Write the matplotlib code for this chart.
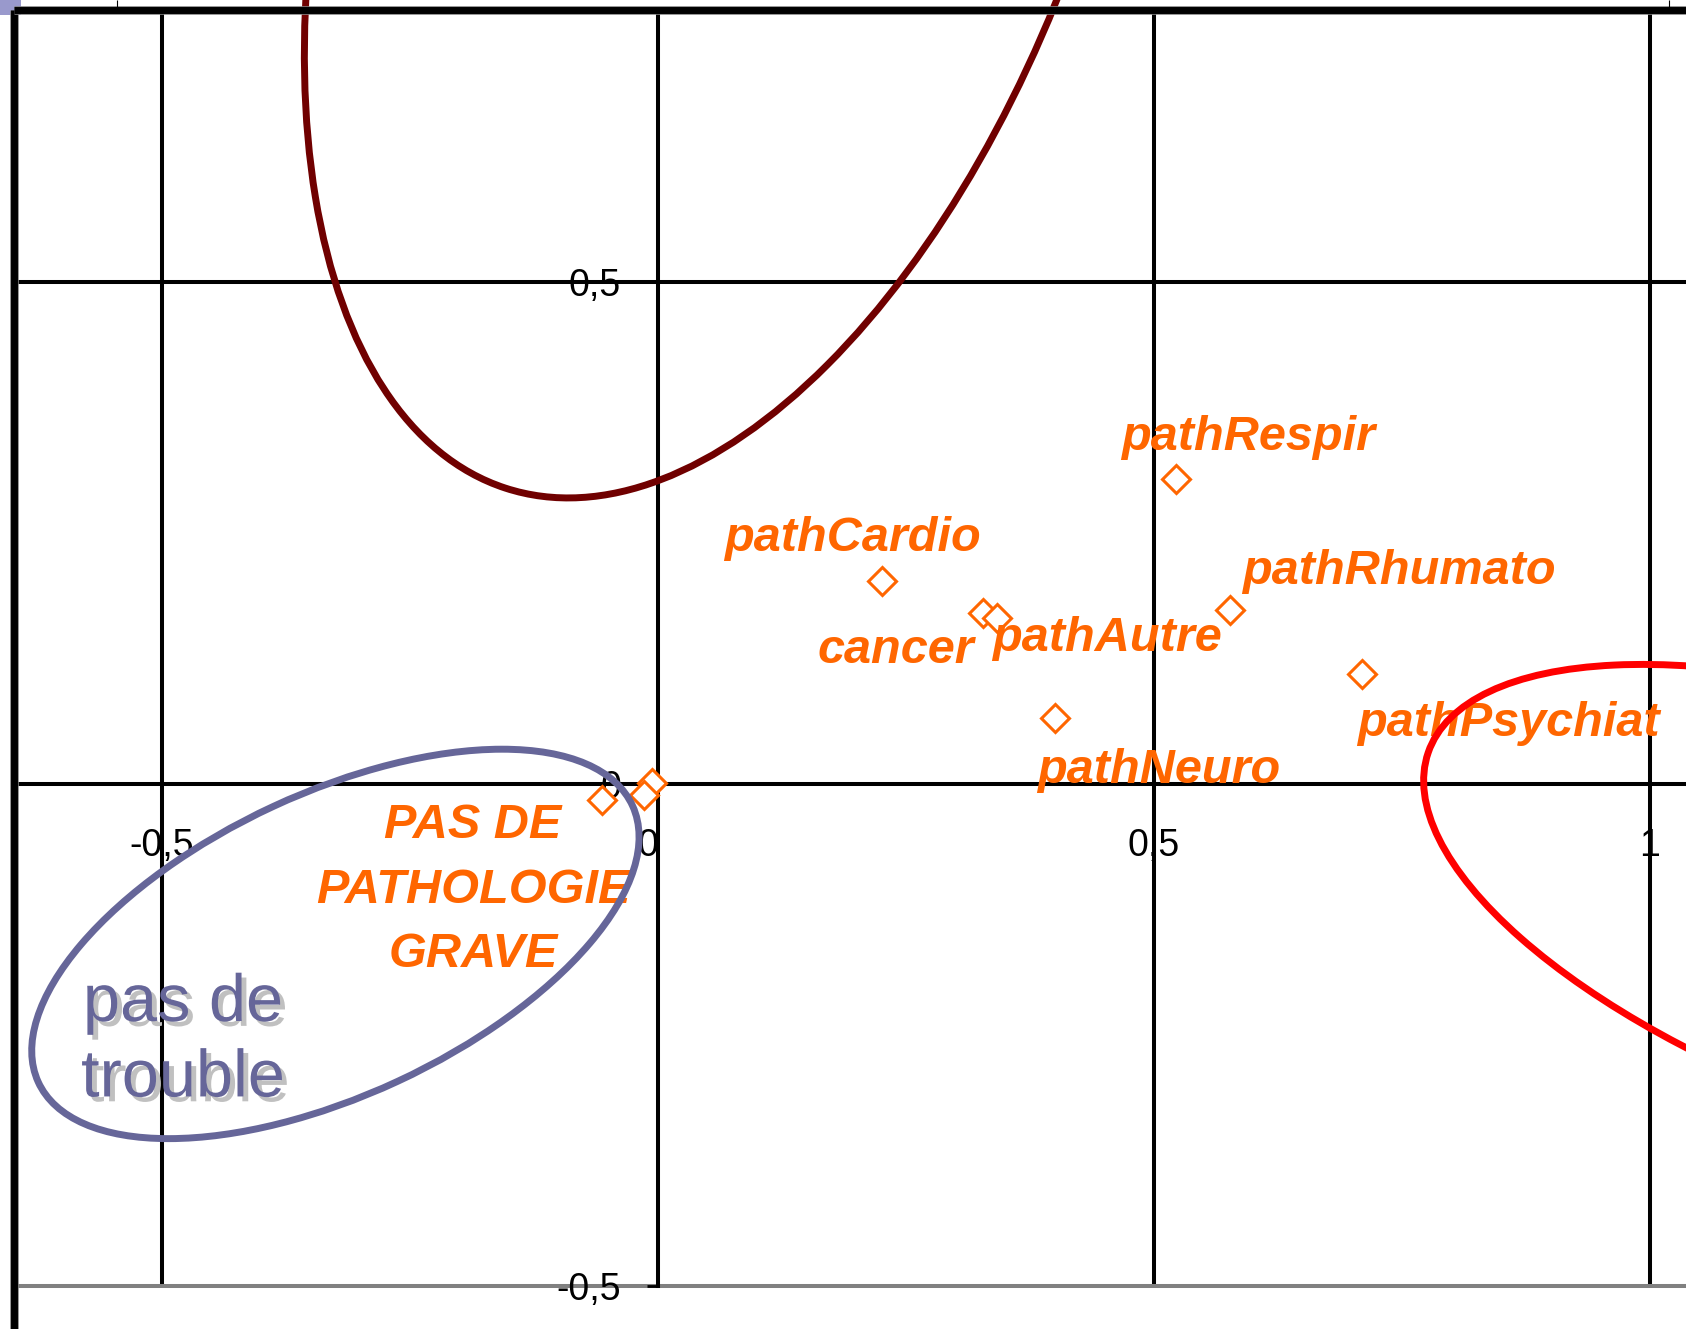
import matplotlib
matplotlib.use('Agg')
import matplotlib.pyplot as plt
import matplotlib.patheffects as pe
from matplotlib.patches import Ellipse, Rectangle
from matplotlib.ticker import FuncFormatter

plt.rcParams['font.family'] = ['Liberation Sans', 'DejaVu Sans']

# modalites projetees sur le plan factoriel (axe 1, axe 2)
labels = ['pathRespir', 'pathCardio', 'cancer', 'pathAutre', 'pathRhumato',
          'pathPsychiat', 'pathNeuro', 'PAS DE\nPATHOLOGIE\nGRAVE', '', '']
axe1 = [0.522, 0.226, 0.328, 0.342, 0.577, 0.710, 0.400, -0.006, -0.014, -0.056]
axe2 = [0.304, 0.202, 0.170, 0.165, 0.173, 0.110, 0.066, 0.001, -0.011, -0.016]
xticks = [-0.5, 0, 0.5, 1]
yticks = [-0.5, 0, 0.5]

# decalage des etiquettes en pixels (dx, dy, ha, va)
label_pos = [(-55, 29, 'left', 'baseline'), (-158, 30, 'left', 'baseline'),
             (-166, -50, 'left', 'baseline'), (-5, -33, 'left', 'baseline'),
             (12, 26, 'left', 'baseline'), (-5, -62, 'left', 'baseline'),
             (-18, -65, 'left', 'baseline'), (-179, -20, 'center', 'top'),
             (0, 0, 'left', 'baseline'), (0, 0, 'left', 'baseline')]

# groupes entoures : centre, largeur, hauteur, angle, couleur
groupes = [((0.0736, 0.9986), 1.4797, 0.7671, 72.09, '#700000'),
           ((-0.3252, -0.1592), 0.6592, 0.3010, 24.62, '#666699'),
           ((1.2554, -0.1351), 1.0141, 0.4067, -19.16, '#ff0000')]

W, H = 1686, 1329
X0, Y0, SX, SY = 658, 784, 992, 1004.5


def px(x, y):
    return (x - X0) / SX, (Y0 - y) / SY


fig = plt.figure(figsize=(W / 100, H / 100), dpi=100)
ax = fig.add_axes([0, 0, 1, 1])
ax.set_xlim(px(0, 0)[0], px(W, 0)[0])
ax.set_ylim(px(0, H)[1], px(0, 0)[1])
ax.set_facecolor('white')

xl = px(13.5, 0)[0]
xr = px(W, 0)[0]
yt = px(0, 9.5)[1]

for s in ['top', 'right']:
    ax.spines[s].set_visible(False)
ax.spines['left'].set_position(('data', 0))
ax.spines['bottom'].set_position(('data', 0))
ax.spines['left'].set_bounds(-0.5, yt)
ax.spines['bottom'].set_bounds(xl, xr)
for s in ['left', 'bottom']:
    ax.spines[s].set_linewidth(2.9)
    ax.spines[s].set_color('black')

ax.set_xticks(xticks)
ax.set_yticks(yticks)
ax.xaxis.set_major_formatter(FuncFormatter(lambda v, p: '' if v == 0 else ('%g' % v).replace('.', ',')))
ax.yaxis.set_major_formatter(FuncFormatter(lambda v, p: ('%g' % v).replace('.', ',')))
ax.tick_params(axis='y', direction='out', length=8, width=2, pad=18.5, labelsize=27)
ax.tick_params(axis='x', direction='out', length=8, width=2, pad=24, labelsize=27)
ax.text(*px(648, 828), '0', ha='center', va='top', fontsize=27, zorder=1.5)

# quadrillage
ax.vlines([v for v in xticks if v != 0], -0.5, yt, color='black', lw=2.9, zorder=1)
ax.hlines(0.5, xl, xr, color='black', lw=2.9, zorder=1)
ax.hlines(-0.5, xl, xr, color='#808080', lw=2.9, zorder=1)

# cadre
ax.add_patch(Rectangle(px(0, 15), 21 / SX, 15 / SY, color='#9999cc', zorder=0.5, lw=0))
ax.vlines(xl, px(0, H)[1], yt, color='#808080', lw=6.2, zorder=6)
ax.vlines(xl, px(0, H)[1], yt, color='black', lw=5, zorder=6)
ax.hlines(yt, xl, xr, color='#808080', lw=6.2, zorder=6)
ax.hlines(yt, xl, xr, color='black', lw=5, zorder=6)
ax.vlines([px(117, 0)[0], px(1669, 0)[0]], yt, px(0, 0)[1], color='black', lw=0.8, zorder=6)

ax.plot(axe1, axe2, ls='none', marker='D', ms=14.3, mfc='white', mec='#ff6600',
        mew=2.2, zorder=3)

for i, lab in enumerate(labels):
    if not lab:
        continue
    dx, dy, ha, va = label_pos[i]
    ax.annotate(lab, (axe1[i], axe2[i]), xytext=(dx, dy), textcoords='offset pixels',
                ha=ha, va=va, multialignment='center', linespacing=1.56,
                fontsize=35, fontweight='bold', fontstyle='italic', color='#ff6600', zorder=4)

ax.text(*px(183, 973), 'pas de\ntrouble', ha='center', va='top', multialignment='center',
        fontsize=48, color='#666699', linespacing=1.28, zorder=4,
        path_effects=[pe.SimplePatchShadow(offset=(3.5, -3.5), shadow_rgbFace='#c0c0c0', alpha=1),
                      pe.Normal()])

for centre, w, h, ang, col in groupes:
    ax.add_patch(Ellipse(centre, w, h, angle=ang, fill=False, ec=col, lw=5, zorder=5))

fig.savefig('out.png', dpi=100)
